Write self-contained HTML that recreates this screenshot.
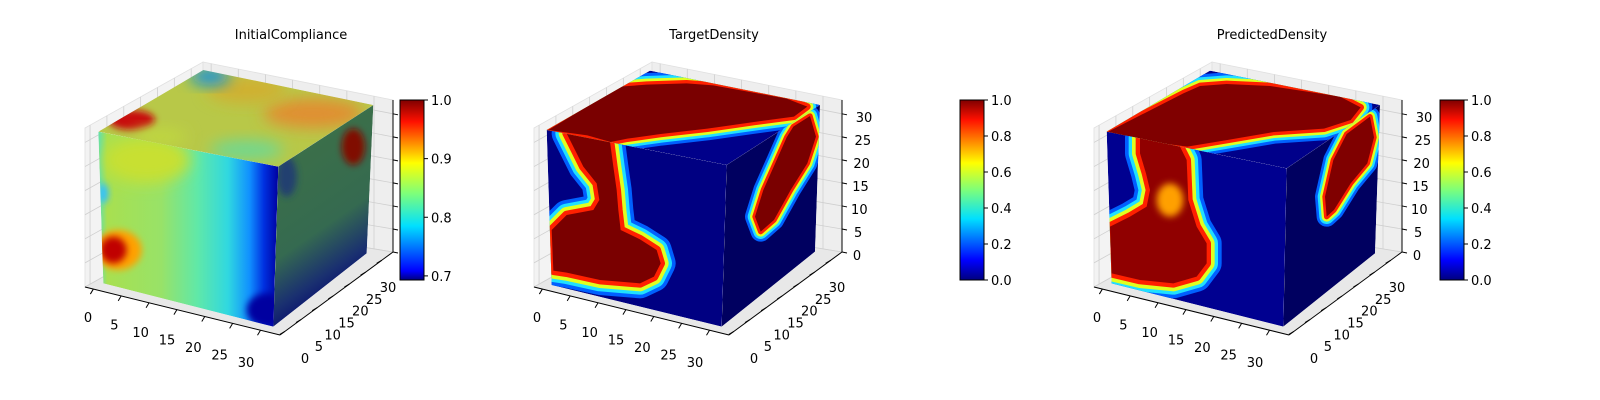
<!DOCTYPE html>
<html><head><meta charset="utf-8"><style>
html,body{margin:0;padding:0;background:#fff;width:1600px;height:400px;overflow:hidden}
svg text{font-family:"DejaVu Sans","Liberation Sans",sans-serif;font-size:13px;fill:#000}
</style></head><body>
<svg id="fig" width="1600" height="400" viewBox="0 0 1600 400" xmlns="http://www.w3.org/2000/svg">
<defs>
 <linearGradient id="jet" x1="0" y1="1" x2="0" y2="0">
  <stop offset="0" stop-color="#00007f"/><stop offset="0.11" stop-color="#0000ff"/>
  <stop offset="0.34" stop-color="#00e0ff"/><stop offset="0.5" stop-color="#7dff7a"/>
  <stop offset="0.65" stop-color="#ffff00"/><stop offset="0.89" stop-color="#ff1000"/>
  <stop offset="1" stop-color="#7f0000"/>
 </linearGradient>
 <linearGradient id="jet1" x1="0" y1="1" x2="0" y2="0">
  <stop offset="0" stop-color="#00007f"/><stop offset="0.05" stop-color="#0000ff"/>
  <stop offset="0.3" stop-color="#00e0ff"/><stop offset="0.48" stop-color="#7dff7a"/>
  <stop offset="0.65" stop-color="#ffff00"/><stop offset="0.88" stop-color="#ff1000"/>
  <stop offset="1" stop-color="#7f0000"/>
 </linearGradient>
 <linearGradient id="c1front" gradientUnits="userSpaceOnUse" x1="115" y1="0" x2="655" y2="0">
  <stop offset="0" stop-color="#60e0b0"/><stop offset="0.05" stop-color="#a8e050"/>
  <stop offset="0.35" stop-color="#98e268"/><stop offset="0.55" stop-color="#60e8a8"/>
  <stop offset="0.72" stop-color="#30d8e0"/><stop offset="0.84" stop-color="#1090ff"/>
  <stop offset="0.92" stop-color="#0030e0"/><stop offset="1" stop-color="#0000a0"/>
 </linearGradient>
 <linearGradient id="c1right" gradientUnits="userSpaceOnUse" x1="655" y1="300" x2="930" y2="700">
  <stop offset="0" stop-color="#3c7048"/><stop offset="0.55" stop-color="#356a50"/>
  <stop offset="0.8" stop-color="#1a3070"/><stop offset="1" stop-color="#000070"/>
 </linearGradient>
 <filter id="blur" x="-50%" y="-50%" width="200%" height="200%"><feGaussianBlur stdDeviation="22"/></filter>
 <filter id="blur2" x="-50%" y="-50%" width="200%" height="200%"><feGaussianBlur stdDeviation="10"/></filter>
 <clipPath id="c1f"><polygon points="115,245 655,350 640,830 130,700"/></clipPath>
 <clipPath id="c1r"><polygon points="655,350 940,165 920,610 640,830"/></clipPath>
 <clipPath id="c1t"><polygon points="115,245 430,60 940,165 655,350"/></clipPath>
 <clipPath id="c2f"><polygon points="140,240 680,345 665,830 155,705"/></clipPath>
 <clipPath id="c2r"><polygon points="680,345 960,165 945,605 665,830"/></clipPath>
 <clipPath id="c2t"><polygon points="140,240 450,62 960,165 680,345"/></clipPath>
 <clipPath id="c3f"><polygon points="200,245 740,355 730,830 215,700"/></clipPath>
 <clipPath id="c3r"><polygon points="740,355 1020,165 1005,610 730,830"/></clipPath>
 <clipPath id="c3t"><polygon points="200,245 510,62 1020,165 740,355"/></clipPath>
 <path id="s2front" d="M200,250 L330,275 L340,350 L350,420 L355,480 L362,540 L420,568 L470,600 L482,640 L462,680 L420,700 L300,690 L200,668 L160,662 L155,540 L200,495 L280,480 L298,450 L290,400 L250,350 L225,300 Z"/>
 <path id="s2right" d="M880,230 L930,198 L948,260 L922,340 L872,420 L822,510 L782,545 L765,500 L790,420 L830,330 L860,262 Z"/>
 <path id="s2top" d="M145,240 L360,110 L440,104 L560,100 L640,106 L860,146 L922,170 L882,200 L762,216 L622,236 L482,252 L382,266 L332,276 L262,256 Z"/>
 <path id="s3front" d="M300,262 L420,290 L440,330 L445,450 L470,530 L500,580 L500,640 L470,680 L400,700 L300,690 L215,670 L210,530 L270,500 L320,470 L330,420 L318,370 L300,310 Z"/>
 <path id="s3right" d="M990,200 L1002,262 L982,340 L932,400 L882,480 L860,500 L855,440 L880,330 L920,252 Z"/>
 <path id="s3top" d="M205,245 L430,130 L480,108 L560,102 L690,108 L900,140 L962,172 L932,210 L852,236 L702,246 L562,270 L442,290 L382,282 L262,262 Z"/>
</defs>
<g id="panes"></g>
<g transform="translate(60,50) scale(0.33333)">
 <g clip-path="url(#c1t)">
  <polygon points="115,245 430,60 940,165 655,350" fill="#b8c848"/>
  <ellipse cx="760" cy="190" rx="150" ry="45" fill="#e09030" filter="url(#blur)"/>
  <ellipse cx="560" cy="120" rx="120" ry="40" fill="#d0b030" filter="url(#blur)"/>
  <ellipse cx="215" cy="210" rx="70" ry="30" fill="#c81010" filter="url(#blur2)"/>
  <ellipse cx="450" cy="80" rx="60" ry="25" fill="#1090e0" filter="url(#blur)"/>
  <ellipse cx="560" cy="300" rx="110" ry="30" fill="#70d890" filter="url(#blur)"/>
  <ellipse cx="300" cy="260" rx="80" ry="25" fill="#c0d840" filter="url(#blur)"/>
 </g>
 <g clip-path="url(#c1f)">
  <polygon points="115,245 655,350 640,830 130,700" fill="url(#c1front)"/>
  <ellipse cx="260" cy="330" rx="130" ry="70" fill="#c8e030" filter="url(#blur)"/>
  <ellipse cx="175" cy="600" rx="70" ry="60" fill="#ffa000" filter="url(#blur2)"/>
  <ellipse cx="160" cy="600" rx="40" ry="40" fill="#c00000" filter="url(#blur2)"/>
  <ellipse cx="130" cy="430" rx="15" ry="30" fill="#30c0ff" filter="url(#blur2)"/>
  <ellipse cx="620" cy="780" rx="60" ry="50" fill="#0000a0" filter="url(#blur2)"/>
 </g>
 <g clip-path="url(#c1r)">
  <polygon points="655,350 940,165 920,610 640,830" fill="url(#c1right)"/>
  <ellipse cx="880" cy="290" rx="35" ry="55" fill="#801000" filter="url(#blur2)"/>
  <ellipse cx="680" cy="380" rx="30" ry="60" fill="#204070" filter="url(#blur2)"/>
 </g>
</g>
<g transform="translate(500,50) scale(0.33333)" stroke-linejoin="round">
 <g clip-path="url(#c2t)">
  <polygon points="140,240 450,62 960,165 680,345" fill="#00008a"/>
  <use href="#s2top" fill="none" stroke="#0060ff" stroke-width="70"/>
  <use href="#s2top" fill="none" stroke="#20e0ff" stroke-width="52"/>
  <use href="#s2top" fill="none" stroke="#e0ff20" stroke-width="36"/>
  <use href="#s2top" fill="none" stroke="#ff2000" stroke-width="20"/>
  <use href="#s2top" fill="#7a0000"/>
 </g>
 <g clip-path="url(#c2f)">
  <polygon points="140,240 680,345 665,830 155,705" fill="#000082"/>
  <use href="#s2front" fill="none" stroke="#0060ff" stroke-width="90"/>
  <use href="#s2front" fill="none" stroke="#20e0ff" stroke-width="68"/>
  <use href="#s2front" fill="none" stroke="#e0ff20" stroke-width="48"/>
  <use href="#s2front" fill="none" stroke="#ff2000" stroke-width="26"/>
  <use href="#s2front" fill="#7a0000"/>
 </g>
 <g clip-path="url(#c2r)">
  <polygon points="680,345 960,165 945,605 665,830" fill="#000060"/>
  <use href="#s2right" fill="none" stroke="#0060ff" stroke-width="60"/>
  <use href="#s2right" fill="none" stroke="#20e0ff" stroke-width="44"/>
  <use href="#s2right" fill="none" stroke="#e0ff20" stroke-width="30"/>
  <use href="#s2right" fill="none" stroke="#ff2000" stroke-width="16"/>
  <use href="#s2right" fill="#7a0000"/>
 </g>
</g>
<g transform="translate(1040,50) scale(0.33333)" stroke-linejoin="round">
 <g clip-path="url(#c3t)">
  <polygon points="200,245 510,62 1020,165 740,355" fill="#00008a"/>
  <use href="#s3top" fill="none" stroke="#0060ff" stroke-width="70"/>
  <use href="#s3top" fill="none" stroke="#20e0ff" stroke-width="52"/>
  <use href="#s3top" fill="none" stroke="#e0ff20" stroke-width="36"/>
  <use href="#s3top" fill="none" stroke="#ff2000" stroke-width="20"/>
  <use href="#s3top" fill="#800000"/>
 </g>
 <g clip-path="url(#c3f)">
  <polygon points="200,245 740,355 730,830 215,700" fill="#000090"/>
  <use href="#s3front" fill="none" stroke="#0060ff" stroke-width="90"/>
  <use href="#s3front" fill="none" stroke="#20e0ff" stroke-width="68"/>
  <use href="#s3front" fill="none" stroke="#e0ff20" stroke-width="48"/>
  <use href="#s3front" fill="none" stroke="#ff2000" stroke-width="26"/>
  <use href="#s3front" fill="#900000"/>
  <ellipse cx="390" cy="450" rx="40" ry="50" fill="#ffa000" filter="url(#blur2)"/>
 </g>
 <g clip-path="url(#c3r)">
  <polygon points="740,355 1020,165 1005,610 730,830" fill="#000060"/>
  <use href="#s3right" fill="none" stroke="#0060ff" stroke-width="60"/>
  <use href="#s3right" fill="none" stroke="#20e0ff" stroke-width="44"/>
  <use href="#s3right" fill="none" stroke="#e0ff20" stroke-width="30"/>
  <use href="#s3right" fill="none" stroke="#ff2000" stroke-width="16"/>
  <use href="#s3right" fill="#800000"/>
 </g>
</g>
<g id="axes"></g>
</svg>
<script>
const axisTicks = [0, 5, 10, 15, 20, 25, 30];
const cbTicksCompliance = [0.7, 0.8, 0.9, 1.0];
const cbTicksDensity = [0.0, 0.2, 0.4, 0.6, 0.8, 1.0];
const cbRangeCompliance = [0.693, 1.0];
const cbRangeDensity = [0.0, 1.0];
const titles = ["InitialCompliance", "TargetDensity", "PredictedDensity"];
const axisMax = 33;

const NS = "http://www.w3.org/2000/svg";
const panes = document.getElementById("panes");
const axes = document.getElementById("axes");
function mk(tag, parent) { const e = document.createElementNS(NS, tag); parent.appendChild(e); return e; }
function lerp(a, b, f) { return [a[0] + (b[0] - a[0]) * f, a[1] + (b[1] - a[1]) * f]; }
function fx(t) { return (t + 1.5) / (axisMax + 2); }

const panelOffsets = [0, 449, 1009];
const cbX = [400, 960, 1440];
const titleX = [291, 714, 1272];
const showZLabels = [false, true, true];

panelOffsets.forEach((ox, p) => {
  const P = (x, y) => [x + ox, y];
  const FL = P(85, 128), BL = P(203, 62), BR = P(393, 100);
  const FLb = P(85, 287), BLb = P(203, 221), BRb = P(393, 252), FRb = P(280, 335);
  const g = mk("g", panes);
  
  
  const poly = (pts, fill, name) => {
    const e = mk("polygon", g);
    e.setAttribute("points", pts.map(q => q.join(",")).join(" "));
    e.setAttribute("fill", fill);
    e.setAttribute("stroke", "#e0e0e0");
    e.setAttribute("stroke-width", "0.8");
    
    
  };
  poly([FL, BL, BLb, FLb], "#f3f3f3", "left-pane");
  poly([BL, BR, BRb, BLb], "#eeeeee", "back-pane");
  poly([FLb, BLb, BRb, FRb], "#e8e8e8", "floor-pane");
  const line = (a, b, col, w, name, parent) => {
    const e = mk("line", parent || g);
    e.setAttribute("x1", a[0]); e.setAttribute("y1", a[1]);
    e.setAttribute("x2", b[0]); e.setAttribute("y2", b[1]);
    e.setAttribute("stroke", col); e.setAttribute("stroke-width", w);
    
    
  };
  axisTicks.forEach(t => {
    const f = fx(t);
    line(lerp(FL, BL, f), lerp(FLb, BLb, f), "#cfcfcf", 0.8, "y-gridline");
    line(lerp(BL, BR, f), lerp(BLb, BRb, f), "#cfcfcf", 0.8, "x-gridline");
    const fz = t / axisMax;
    line(lerp(FLb, FL, fz), lerp(BLb, BL, fz), "#cfcfcf", 0.8, "z-gridline");
    line(lerp(BLb, BL, fz), lerp(BRb, BR, fz), "#cfcfcf", 0.8, "z-gridline");
  });
  const ag = mk("g", axes);
  
  
  line(FLb, FRb, "#000", 1, "x-axis-line", ag);
  line(FRb, BRb, "#000", 1, "y-axis-line", ag);
  line(BRb, BR, "#000", 1, "z-axis-line", ag);
  const txt = (x, y, s, anchor, name) => {
    const e = mk("text", ag);
    e.setAttribute("x", x); e.setAttribute("y", y);
    e.setAttribute("text-anchor", anchor);
    e.textContent = s;
    
    
  };
  axisTicks.forEach(t => {
    const f = fx(t);
    const px = lerp(FLb, FRb, f);
    line(px, [px[0] - 3, px[1] + 5], "#000", 1, "x-tick", ag);
    const lx = lerp(P(88, 322), P(246, 367), t / 30);
    txt(lx[0], lx[1], String(t), "middle", "x-tick-label");
    const py = lerp(FRb, BRb, f);
    line(py, [py[0] - 5, py[1] + 3], "#000", 1, "y-tick", ag);
    const ly = lerp(P(305, 363), P(388, 292), t / 30);
    txt(ly[0], ly[1], String(t), "middle", "y-tick-label");
    const pz = lerp(BRb, BR, t / axisMax);
    line(pz, [pz[0] + 5, pz[1] + 1], "#000", 1, "z-tick", ag);
    if (showZLabels[p]) {
      const lz = lerp(P(408, 260), P(415, 122), t / 30);
      txt(lz[0], lz[1], String(t), "middle", "z-tick-label");
    }
  });
  txt(titleX[p], 39, titles[p], "middle", "chart-title");
  const cb = mk("g", axes);
  
  
  const r = mk("rect", cb);
  r.setAttribute("x", cbX[p]); r.setAttribute("y", 100);
  r.setAttribute("width", 24); r.setAttribute("height", 180);
  r.setAttribute("fill", p === 0 ? "url(#jet1)" : "url(#jet)");
  r.setAttribute("stroke", "#000"); r.setAttribute("stroke-width", "1");
  
  
  const ticks = p === 0 ? cbTicksCompliance : cbTicksDensity;
  const range = p === 0 ? cbRangeCompliance : cbRangeDensity;
  ticks.forEach(v => {
    const y = 280 - (v - range[0]) / (range[1] - range[0]) * 180;
    line([cbX[p] + 24, y], [cbX[p] + 28, y], "#000", 1, "colorbar-tick", cb);
    const e = mk("text", cb);
    e.setAttribute("x", cbX[p] + 31); e.setAttribute("y", y + 5);
    e.textContent = v.toFixed(1);
    
    
  });
});
</script>
</body></html>
